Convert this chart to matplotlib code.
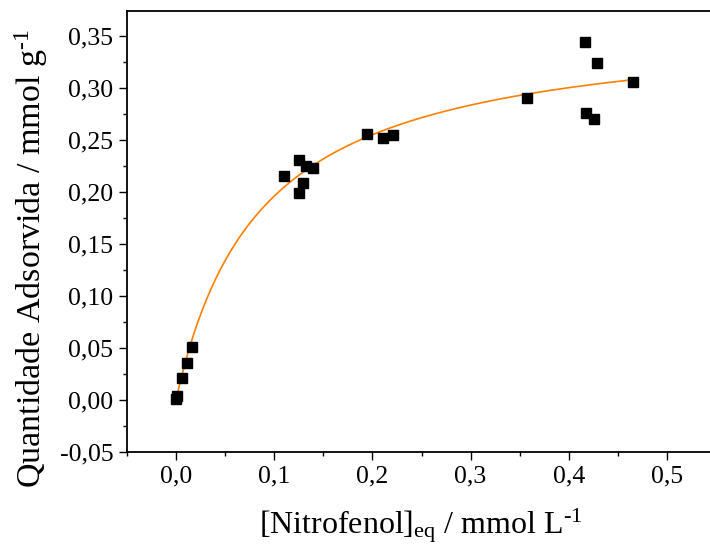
import matplotlib
matplotlib.use('Agg')
import numpy as np
import matplotlib.pyplot as plt
from matplotlib.ticker import FuncFormatter, MultipleLocator

# ---------------- data ----------------
conc_eq = [0.000, 0.001, 0.006, 0.011, 0.016,
           0.110, 0.125, 0.132, 0.140, 0.129, 0.125,
           0.194, 0.211, 0.221,
           0.357, 0.417, 0.429, 0.465, 0.418, 0.426]
q_ads = [0.001, 0.004, 0.021, 0.036, 0.051,
         0.215, 0.231, 0.225, 0.223, 0.209, 0.199,
         0.256, 0.252, 0.255,
         0.290, 0.344, 0.324, 0.306, 0.276, 0.270]

# Langmuir fit parameters
q_max = 0.365
K_L = 11.6
fit_x_max = 0.465

plt.rcParams['font.family'] = ['Liberation Serif', 'DejaVu Serif']
plt.rcParams['mathtext.fontset'] = 'custom'
plt.rcParams['mathtext.rm'] = 'Liberation Serif'
plt.rcParams['mathtext.it'] = 'Liberation Serif:italic'

fig = plt.figure(figsize=(7.10, 5.49), dpi=100)
# right spine falls just outside the picture, as in the original
ax = fig.add_axes([126.9 / 710, 97 / 549, 589.2 / 710, 441 / 549])

cx = np.linspace(0, fit_x_max, 300)
ax.plot(cx, q_max * K_L * cx / (1 + K_L * cx), color='#ff7f00', lw=1.2, zorder=2)
ax.plot(conc_eq, q_ads, 's', color='black', ms=6.5, zorder=3)

ax.set_xlim(-0.05, 0.55)
ax.set_ylim(-0.05, 0.374)

ax.xaxis.set_major_locator(MultipleLocator(0.1))
ax.xaxis.set_minor_locator(MultipleLocator(0.05))
ax.yaxis.set_major_locator(MultipleLocator(0.05))
ax.yaxis.set_minor_locator(MultipleLocator(0.025))

ax.xaxis.set_major_formatter(FuncFormatter(lambda v, p: ('%.1f' % v).replace('.', ',')))
ax.yaxis.set_major_formatter(FuncFormatter(lambda v, p: ('%.2f' % v).replace('.', ',').replace('-0,00', '0,00')))

for s in ['left', 'bottom', 'top', 'right']:
    ax.spines[s].set_linewidth(1.3)
ax.tick_params(which='major', direction='out', length=5.8, width=1.0, labelsize=18.5, pad=4)
ax.tick_params(which='minor', direction='out', length=3.2, width=1.0)
ax.tick_params(top=False, right=False, which='both')

fig.text(421 / 710, 23 / 549, '[Nitrofenol]$_{\\mathrm{eq}}$ / mmol L$^{\\mathrm{\u20101}}$',
         ha='center', va='center', fontsize=23)
fig.text(31 / 710, 290 / 549, 'Quantidade Adsorvida / mmol g$^{\\mathrm{\u20101}}$',
         ha='center', va='center', rotation=90, fontsize=24.5)

fig.savefig('out.png', dpi=100)
